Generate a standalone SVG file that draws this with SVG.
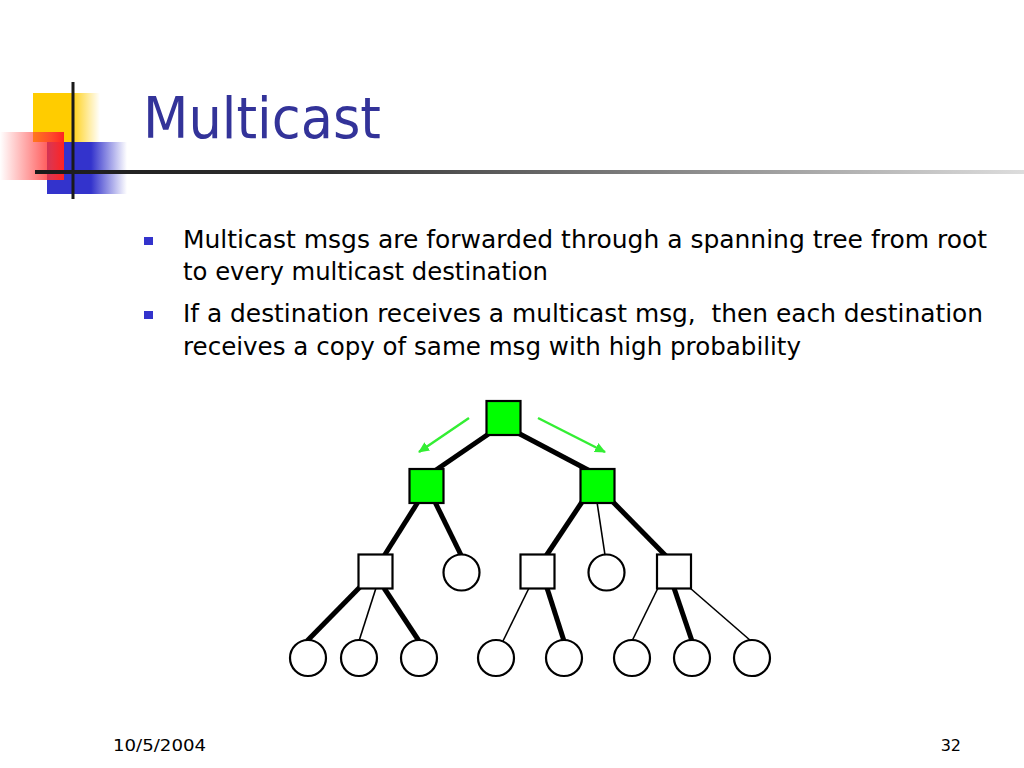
<svg xmlns="http://www.w3.org/2000/svg" width="1024" height="768" viewBox="0 0 1024 768">
<defs>
<linearGradient id="gy" x1="0" y1="0" x2="1" y2="0">
<stop offset="0" stop-color="#FFCC00"/><stop offset="0.55" stop-color="#FFCC00"/><stop offset="1" stop-color="#FFCC00" stop-opacity="0"/>
</linearGradient>
<linearGradient id="gb" x1="0" y1="0" x2="1" y2="0">
<stop offset="0" stop-color="#3333CC"/><stop offset="0.55" stop-color="#3333CC"/><stop offset="1" stop-color="#3333CC" stop-opacity="0"/>
</linearGradient>
<linearGradient id="gr" x1="0" y1="0" x2="1" y2="0">
<stop offset="0" stop-color="#FF3333" stop-opacity="0"/><stop offset="0.8" stop-color="#FF3333" stop-opacity="0.85"/><stop offset="1" stop-color="#FF2222"/>
</linearGradient>
<linearGradient id="gl" x1="0" y1="0" x2="1" y2="0">
<stop offset="0" stop-color="#1a1a1a"/><stop offset="0.3" stop-color="#333333"/><stop offset="1" stop-color="#dddddd"/>
</linearGradient>
<marker id="ah" markerWidth="12" markerHeight="10" refX="10" refY="5" orient="auto" markerUnits="userSpaceOnUse">
<path d="M0,0 L11,5 L0,10 Z" fill="#33EE33"/>
</marker>
<style>
.body{font-family:"DejaVu Sans","Liberation Sans",sans-serif;font-size:25.5px;fill:#000}
.bul{fill:#3333CC}
.thick{stroke:#000;stroke-width:5;fill:none}
.thin{stroke:#000;stroke-width:1.6;fill:none}
.sq{stroke:#000;stroke-width:2.2;fill:#fff}
.gsq{stroke:#000;stroke-width:2.2;fill:#00FF00}
.cir{stroke:#000;stroke-width:2.2;fill:#fff}
.arr{stroke:#33EE33;stroke-width:2.5;fill:none;marker-end:url(#ah)}
.foot{font-family:"DejaVu Sans","Liberation Sans",sans-serif;font-size:16px;fill:#000}
</style>
</defs>
<rect width="1024" height="768" fill="#fff"/>
<g id="logo">
<rect x="33" y="93" width="67" height="49" fill="url(#gy)"/>
<rect x="47" y="142" width="80" height="52" fill="url(#gb)"/>
<rect x="0" y="132" width="64" height="48" fill="url(#gr)"/>
<rect x="71.5" y="82" width="3" height="117" fill="#1a1a1a"/>
<rect x="35" y="170" width="989" height="4" fill="url(#gl)"/>
</g>
<text id="title" x="143" y="138" font-family="DejaVu Sans, Liberation Sans, sans-serif" font-size="57" fill="#333399" textLength="238" lengthAdjust="spacingAndGlyphs">Multicast</text>
<g id="bullets">
<rect class="bul" x="144" y="237" width="9" height="8"/>
<rect class="bul" x="144" y="311" width="9" height="8"/>
<text class="body" x="183" y="248" textLength="804" lengthAdjust="spacingAndGlyphs">Multicast msgs are forwarded through a spanning tree from root</text>
<text class="body" x="183" y="280" textLength="365" lengthAdjust="spacingAndGlyphs">to every multicast destination</text>
<text class="body" x="183" y="322" textLength="800" lengthAdjust="spacingAndGlyphs" xml:space="preserve">If a destination receives a multicast msg,  then each destination</text>
<text class="body" x="183" y="355" textLength="618" lengthAdjust="spacingAndGlyphs">receives a copy of same msg with high probability</text>
</g>
<g id="connectors">
<line class="arr" x1="469" y1="418" x2="419" y2="452"/>
<line class="arr" x1="538" y1="418" x2="605" y2="452"/>
<line class="thick" x1="490" y1="433" x2="436" y2="470"/>
<line class="thick" x1="518" y1="433" x2="590" y2="471"/>
<line class="thick" x1="418" y1="502" x2="384" y2="556"/>
<line class="thick" x1="435" y1="502" x2="461" y2="555"/>
<line class="thick" x1="582" y1="502" x2="546" y2="556"/>
<line class="thin" x1="597" y1="502" x2="605" y2="555"/>
<line class="thick" x1="613" y1="502" x2="666" y2="556"/>
<line class="thick" x1="360" y1="587" x2="307" y2="641"/>
<line class="thin" x1="376" y1="588" x2="359" y2="641"/>
<line class="thick" x1="384" y1="588" x2="419" y2="641"/>
<line class="thin" x1="529" y1="588" x2="503" y2="641"/>
<line class="thick" x1="547" y1="588" x2="564" y2="641"/>
<line class="thin" x1="658" y1="588" x2="632" y2="641"/>
<line class="thick" x1="674" y1="588" x2="692" y2="641"/>
<line class="thin" x1="690" y1="588" x2="751" y2="641"/>
</g>
<g id="n-root"><rect class="gsq" x="486.5" y="401" width="34" height="34"/></g>
<g id="n-l1a"><rect class="gsq" x="409.5" y="469" width="34" height="34"/></g>
<g id="n-l1b"><rect class="gsq" x="580.5" y="469" width="34" height="34"/></g>
<g id="n-l2a"><rect class="sq" x="358.5" y="554.5" width="34" height="34"/></g>
<g id="n-l2b"><circle class="cir" cx="461.5" cy="572.5" r="18"/></g>
<g id="n-l2c"><rect class="sq" x="520.5" y="554.5" width="34" height="34"/></g>
<g id="n-l2d"><circle class="cir" cx="606.5" cy="572.5" r="18"/></g>
<g id="n-l2e"><rect class="sq" x="657" y="554.5" width="34" height="34"/></g>
<g id="n-l3a"><circle class="cir" cx="308" cy="658" r="18"/></g>
<g id="n-l3b"><circle class="cir" cx="359" cy="658" r="18"/></g>
<g id="n-l3c"><circle class="cir" cx="419" cy="658" r="18"/></g>
<g id="n-l3d"><circle class="cir" cx="496" cy="658" r="18"/></g>
<g id="n-l3e"><circle class="cir" cx="564" cy="658" r="18"/></g>
<g id="n-l3f"><circle class="cir" cx="632" cy="658" r="18"/></g>
<g id="n-l3g"><circle class="cir" cx="692" cy="658" r="18"/></g>
<g id="n-l3h"><circle class="cir" cx="752" cy="658" r="18"/></g>
<g id="footer">
<text class="foot" x="113" y="751" textLength="93" lengthAdjust="spacingAndGlyphs">10/5/2004</text>
<text class="foot" x="961" y="751" text-anchor="end">32</text>
</g>
</svg>
